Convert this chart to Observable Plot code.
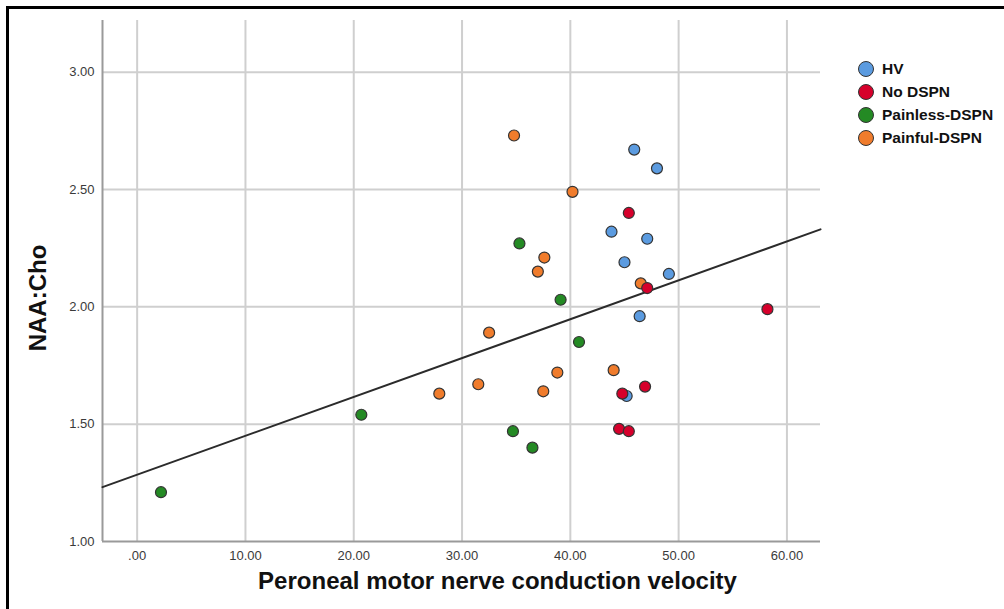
<!DOCTYPE html>
<html><head><meta charset="utf-8">
<script src="https://cdn.jsdelivr.net/npm/d3@7"></script>
<script src="https://cdn.jsdelivr.net/npm/@observablehq/plot@0.6"></script>
<style>
html,body{margin:0;padding:0;background:#fff;}
#wrap{position:relative;width:1004px;height:609px;overflow:hidden;}
#wrap svg{position:absolute;left:0;top:0;}
#frame{position:absolute;left:6px;top:6px;width:1200px;height:800px;border-left:3px solid #000;border-top:3px solid #000;pointer-events:none;}
#legend{position:absolute;left:859px;top:57px;width:145px;white-space:nowrap;font-family:"Liberation Sans",Arial,sans-serif;font-weight:bold;font-size:15.5px;color:#111;}
#legend .it{display:flex;align-items:center;height:23px;}
#legend .sw{flex:none;width:16px;height:16px;border-radius:50%;border:1.5px solid #333;margin-left:-1px;margin-right:8px;box-sizing:border-box;}
</style></head>
<body>
<div id="wrap"><div id="legend"></div><div id="frame"></div></div>
<script>
// ---- data ----
const groups = ["HV", "No DSPN", "Painless-DSPN", "Painful-DSPN"];
const groupColors = ["#5b9be0", "#d6002b", "#248a24", "#f07c2c"];
const hvX = [45.9, 48.0, 43.8, 47.1, 45.0, 49.1, 46.4, 45.2];
const hvY = [2.67, 2.59, 2.32, 2.29, 2.19, 2.14, 1.96, 1.62];
const noX = [45.4, 47.1, 58.2, 44.8, 46.9, 44.5, 45.4];
const noY = [2.40, 2.08, 1.99, 1.63, 1.66, 1.48, 1.47];
const painlessX = [35.3, 39.1, 40.8, 34.7, 36.5, 20.7, 2.2];
const painlessY = [2.27, 2.03, 1.85, 1.47, 1.40, 1.54, 1.21];
const painfulX = [34.8, 40.2, 37.6, 37.0, 46.5, 32.5, 31.5, 27.9, 38.8, 37.5, 44.0];
const painfulY = [2.73, 2.49, 2.21, 2.15, 2.10, 1.89, 1.67, 1.63, 1.72, 1.64, 1.73];
const fitIntercept = 1.2845;
const fitSlope = 0.01657;
const xTicks = [0, 10, 20, 30, 40, 50, 60];
const yTicks = [1.0, 1.5, 2.0, 2.5, 3.0];
const xDomain = [-3.2, 63.1];
const yDomain = [1.0, 3.22];
const xTitle = "Peroneal motor nerve conduction velocity";
const yTitle = "NAA:Cho";

// ---- build table ----
const series = [[hvX, hvY, 0], [painfulX, painfulY, 3], [painlessX, painlessY, 2], [noX, noY, 1]];
const pts = [];
for (const [xs, ys, g] of series) xs.forEach((x, i) => pts.push({x, y: ys[i], g: groups[g]}));
const fit = xDomain.map(x => ({x, y: fitIntercept + fitSlope * x}));

const titleFont = '"Liberation Sans",Arial,sans-serif';

const chart = Plot.plot({
  width: 1004, height: 609,
  marginLeft: 102, marginRight: 184, marginTop: 20, marginBottom: 68,
  style: {fontFamily: '"Liberation Sans",Arial,sans-serif', fontSize: "13px", color: "#333", background: "transparent", overflow: "visible"},
  x: {domain: xDomain},
  y: {domain: yDomain},
  color: {domain: groups, range: groupColors},
  marks: [
    Plot.gridX(xTicks, {stroke: "#cfcfcf", strokeOpacity: 1, strokeWidth: 2}),
    Plot.gridY(yTicks.slice(1), {stroke: "#cfcfcf", strokeOpacity: 1, strokeWidth: 2}),
    Plot.ruleX([xDomain[0]], {stroke: "#9a9a9a", strokeWidth: 2}),
    Plot.ruleY([yDomain[0]], {stroke: "#9a9a9a", strokeWidth: 2}),
    Plot.axisY(yTicks, {tickSize: 0, tickPadding: 8, tickFormat: d => d.toFixed(2), label: null, fill: "#3a3a3a", fontSize: 13}),
    Plot.axisX(xTicks, {tickSize: 0, tickPadding: 9, tickFormat: d => d === 0 ? ".00" : d.toFixed(2), label: null, fill: "#3a3a3a", fontSize: 13}),
    Plot.line(fit, {x: "x", y: "y", stroke: "#2b2b2b", strokeWidth: 2}),
    Plot.dot(pts, {x: "x", y: "y", fill: "g", r: 5.5, stroke: "#333", strokeWidth: 1.2}),
    Plot.text([xTitle], {frameAnchor: "bottom", textAnchor: "middle", lineAnchor: "bottom", dy: 47, dx: 36, fontSize: 24, fontWeight: "bold", fill: "#111", fontFamily: titleFont}),
    Plot.text([yTitle], {frameAnchor: "left", textAnchor: "middle", lineAnchor: "middle", rotate: -90, dx: -64, dy: 17, fontSize: 24, fontWeight: "bold", fill: "#111", fontFamily: titleFont})
  ]
});
document.getElementById("wrap").prepend(chart);

const leg = document.getElementById("legend");
groups.forEach((g, i) => {
  const it = document.createElement("div"); it.className = "it";
  const sw = document.createElement("span"); sw.className = "sw"; sw.style.background = groupColors[i];
  const t = document.createElement("span"); t.textContent = g;
  it.append(sw, t); leg.append(it);
});
</script>
</body></html>
